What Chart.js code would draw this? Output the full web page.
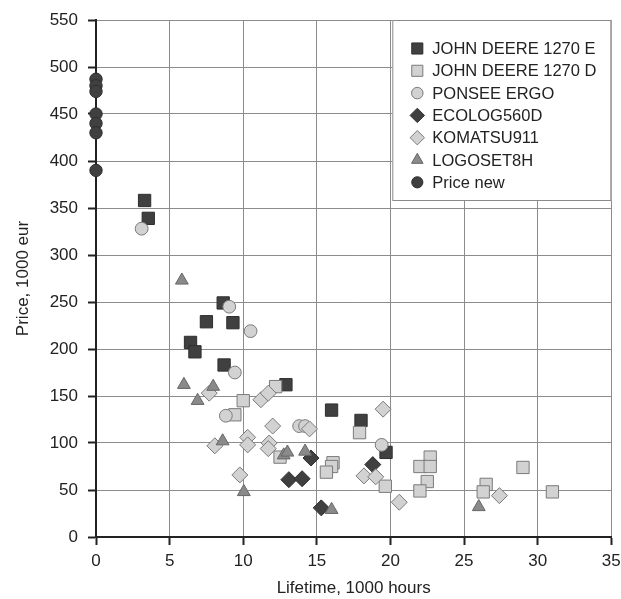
<!DOCTYPE html>
<html>
<head>
<meta charset="utf-8">
<title>Price vs lifetime</title>
<script src="https://cdn.jsdelivr.net/npm/chart.js@4/dist/chart.umd.min.js"></script>
<style>
  html, body { margin: 0; padding: 0; background: #fff; }
  #wrap { width: 621px; height: 599px; }
</style>
</head>
<body>
<div id="wrap"><canvas id="chart" width="621" height="599"></canvas></div>
<script>
'use strict';

// [lifetime 1000 h, price 1000 eur]
var johnDeereE = [[3.3, 358], [3.55, 339], [8.64, 249], [7.5, 229], [9.3, 228], [6.42, 207],
  [6.72, 197], [8.7, 183], [12.9, 162], [16.0, 135], [18.0, 124], [19.7, 90]];
var johnDeereD = [[10.0, 145], [12.2, 160], [9.43, 130], [12.5, 85], [16.1, 79], [16.0, 75],
  [15.65, 69], [17.9, 111], [19.65, 54], [22.7, 85], [22.0, 75], [22.7, 75], [22.5, 59],
  [22.0, 49], [26.5, 56], [26.3, 48], [29.0, 74], [31.0, 48]];
var ponseeErgo = [[3.1, 328], [9.05, 245], [10.5, 219], [9.43, 175], [8.82, 129], [13.8, 118],
  [14.2, 118], [19.4, 98]];
var ecolog560d = [[14.6, 84], [13.1, 61], [14.0, 62], [15.3, 31], [18.8, 77]];
var komatsu911 = [[7.69, 153], [11.2, 146], [11.7, 153], [12.0, 118], [14.5, 115], [19.5, 136],
  [8.07, 97], [10.3, 106], [10.3, 98], [11.76, 100], [11.7, 94], [18.2, 65], [19.0, 64],
  [9.77, 66], [20.6, 37], [27.4, 44]];
var logoset8h = [[5.83, 273], [5.97, 162], [7.96, 160], [6.9, 145], [8.6, 102], [12.75, 87],
  [13.0, 90], [14.2, 91], [10.04, 48], [16.0, 29], [26.0, 32]];
var priceNew = [[0, 487], [0, 480], [0, 474], [0, 450], [0, 440], [0, 430], [0, 390]];

var xTicks = [0, 5, 10, 15, 20, 25, 30, 35];
var yTicks = [0, 50, 100, 150, 200, 250, 300, 350, 400, 450, 500, 550];

var FONT = '"Liberation Sans", Arial, sans-serif';
var INK = '#222';

var styles = [
  { label: 'JOHN DEERE 1270 E', data: johnDeereE, shape: 'rect', r: 8.7, fill: '#404040', line: '#2e2e2e' },
  { label: 'JOHN DEERE 1270 D', data: johnDeereD, shape: 'rect', r: 8.7, fill: '#d2d2d2', line: '#7a7a7a' },
  { label: 'PONSEE ERGO', data: ponseeErgo, shape: 'circle', r: 6.4, fill: '#d2d2d2', line: '#7a7a7a' },
  { label: 'ECOLOG560D', data: ecolog560d, shape: 'rectRot', r: 8, fill: '#404040', line: '#2e2e2e' },
  { label: 'KOMATSU911', data: komatsu911, shape: 'rectRot', r: 8, fill: '#d2d2d2', line: '#7a7a7a' },
  { label: 'LOGOSET8H', data: logoset8h, shape: 'triangle', r: 7.4, fill: '#8a8a8a', line: '#666' },
  { label: 'Price new', data: priceNew, shape: 'circle', r: 6.2, fill: '#404040', line: '#2e2e2e' }
];

var datasets = styles.map(function(s, i) {
  return {
    label: s.label,
    data: s.data.map(function(p) { return { x: p[0], y: p[1] }; }),
    pointStyle: s.shape,
    pointRadius: s.r,
    pointHoverRadius: s.r,
    backgroundColor: s.fill,
    borderColor: s.line,
    pointBorderWidth: 1,
    clip: false,
    order: styles.length - i   // later series drawn on top
  };
});

// legend box sitting inside the plot, top right
var boxLegend = {
  id: 'boxLegend',
  afterDraw: function(chart) {
    var ctx = chart.ctx;
    var area = chart.chartArea;
    var w = 219, h = 181;
    var left = area.right - w, top = area.top;
    ctx.save();
    ctx.fillStyle = '#fff';
    ctx.fillRect(left, top, w, h);
    ctx.strokeStyle = '#8a8a8a';
    ctx.lineWidth = 1;
    ctx.strokeRect(left + 0.5, top + 0.5, w - 1, h - 1);
    ctx.font = '16.5px ' + FONT;
    ctx.textBaseline = 'middle';
    styles.forEach(function(s, i) {
      var y = top + 28.5 + i * 22.3;
      var x = left + 25;
      ctx.fillStyle = s.fill;
      ctx.strokeStyle = s.line;
      ctx.lineWidth = 1;
      Chart.helpers.drawPoint(ctx, { pointStyle: s.shape, radius: s.r * 0.9, rotation: 0, borderWidth: 1 }, x, y);
      ctx.fillStyle = INK;
      ctx.fillText(s.label, x + 15, y + 1);
    });
    ctx.restore();
  }
};

function tickFilter(list) {
  return function(scale) {
    scale.ticks = list.map(function(v) { return { value: v }; });
  };
}

new Chart(document.getElementById('chart'), {
  type: 'scatter',
  data: { datasets: datasets },
  plugins: [boxLegend],
  options: {
    responsive: false,
    animation: false,
    layout: { padding: { top: 20, right: 9, left: 0, bottom: 0 } },
    plugins: {
      legend: { display: false },
      tooltip: { enabled: false }
    },
    scales: {
      x: {
        type: 'linear',
        min: 0,
        max: 35,
        afterBuildTicks: tickFilter(xTicks),
        afterFit: function(scale) {
          scale.height = 62;
          scale.paddingLeft = 0;
          scale.paddingRight = 0;
        },
        grid: { color: '#8c8c8c', lineWidth: 1, tickLength: 8, tickColor: INK, tickWidth: 2 },
        border: { color: INK, width: 2 },
        ticks: { color: INK, padding: 6, font: { family: FONT, size: 17 } },
        title: {
          display: true,
          text: 'Lifetime, 1000 hours',
          color: INK,
          padding: 0,
          font: { family: FONT, size: 17 }
        }
      },
      y: {
        type: 'linear',
        min: 0,
        max: 550,
        afterBuildTicks: tickFilter(yTicks),
        afterFit: function(scale) {
          scale.width = 96;
          scale.paddingTop = 0;
          scale.paddingBottom = 0;
        },
        grid: { color: '#8c8c8c', lineWidth: 1, tickLength: 8, tickColor: INK, tickWidth: 2 },
        border: { color: INK, width: 2 },
        ticks: { color: INK, padding: 10, font: { family: FONT, size: 17 } },
        title: {
          display: true,
          text: 'Price, 1000 eur',
          color: INK,
          padding: { top: 13, bottom: 0 },
          font: { family: FONT, size: 17 }
        }
      }
    }
  }
});
</script>
</body>
</html>
